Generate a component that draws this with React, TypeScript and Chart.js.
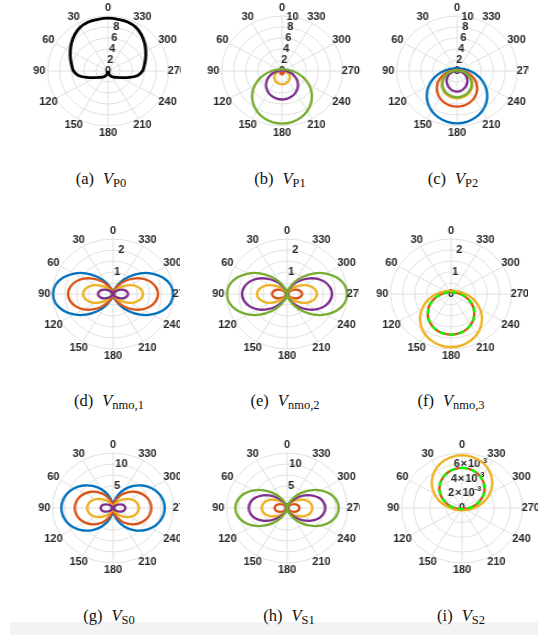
import React, { useEffect, useRef } from 'react';
import { Chart, registerables } from 'chart.js';

Chart.register(...registerables);

// MATLAB default line colours
const BLUE = '#0072BD';
const RED = '#D95319';
const YELLOW = '#EDB120';
const PURPLE = '#7E2F8E';
const GREEN = '#77AC30';
const LIME = '#00FF00';
const BLACK = '#000000';
const GRID = '#e0e0e0';
const TEXT = '#262626';

// Spokes every 10 deg; polar angle counted counter-clockwise from the top (radar spokes run clockwise)
const THETA = Array.from({ length: 36 }, (_, i) => (360 - i * 10) % 360);

// Each curve is listed for theta = 0, 10, ..., 180 deg; the other half mirrors it.
// (a) V_P0
const VP0_BLACK = [9.6, 9.55, 9.5, 9.2, 8.6, 7.9, 7.2, 6.6, 6.1, 5.7, 4.9, 3.5, 2.4, 1.8, 1.45, 1.15, 0.8, 0.45, 0.15];

// (b) V_P1
const VP1_RED = [0.05, 0.05, 0.05, 0.05, 0.05, 0.05, 0.05, 0.06, 0.08, 0.12, 0.18, 0.25, 0.32, 0.39, 0.45, 0.5, 0.55, 0.58, 0.6];
const VP1_YELLOW = [0.09, 0.09, 0.09, 0.1, 0.11, 0.13, 0.16, 0.22, 0.31, 0.47, 0.71, 1.01, 1.33, 1.63, 1.9, 2.12, 2.28, 2.38, 2.42];
const VP1_PURPLE = [0.09, 0.09, 0.1, 0.11, 0.12, 0.14, 0.17, 0.24, 0.37, 0.69, 1.26, 1.98, 2.72, 3.41, 4.02, 4.51, 4.88, 5.1, 5.18];
const VP1_GREEN = [0.31, 0.31, 0.33, 0.35, 0.39, 0.46, 0.57, 0.75, 1.09, 1.72, 2.7, 3.93, 5.2, 6.42, 7.5, 8.38, 9.04, 9.45, 9.58];

// (c) V_P2
const VP2_BLUE = [0.49, 0.5, 0.52, 0.56, 0.62, 0.72, 0.87, 1.11, 1.51, 2.16, 3.08, 4.2, 5.38, 6.52, 7.53, 8.37, 8.99, 9.38, 9.51];
const VP2_RED = [0.18, 0.18, 0.19, 0.21, 0.23, 0.27, 0.34, 0.45, 0.67, 1.09, 1.77, 2.61, 3.49, 4.33, 5.07, 5.67, 6.12, 6.4, 6.49];
const VP2_YELLOW = [0.09, 0.09, 0.09, 0.1, 0.12, 0.14, 0.17, 0.24, 0.37, 0.67, 1.22, 1.9, 2.61, 3.27, 3.85, 4.32, 4.68, 4.89, 4.96];
const VP2_PURPLE = [0.05, 0.05, 0.05, 0.05, 0.06, 0.06, 0.07, 0.09, 0.12, 0.15, 0.6, 1.15, 1.68, 2.2, 2.65, 3.05, 3.4, 3.65, 3.76];
const VP2_GREEN = [0.09, 0.09, 0.09, 0.1, 0.11, 0.13, 0.16, 0.23, 0.35, 0.64, 1.17, 1.82, 2.5, 3.14, 3.7, 4.15, 4.49, 4.69, 4.78];

// (d) V_nmo,1
const VN1_BLUE = [0, 0.07, 0.29, 0.62, 1.02, 1.46, 1.86, 2.19, 2.41, 2.48, 2.41, 2.19, 1.86, 1.46, 1.02, 0.62, 0.29, 0.07, 0];
const VN1_RED = [0, 0.06, 0.22, 0.47, 0.77, 1.09, 1.4, 1.64, 1.8, 1.86, 1.8, 1.64, 1.4, 1.09, 0.77, 0.47, 0.22, 0.06, 0];
const VN1_YELLOW = [0, 0.01, 0.05, 0.16, 0.33, 0.56, 0.81, 1.03, 1.18, 1.24, 1.18, 1.03, 0.81, 0.56, 0.33, 0.16, 0.05, 0.01, 0];
const VN1_PURPLE = [0, 0, 0.02, 0.08, 0.16, 0.28, 0.4, 0.51, 0.59, 0.62, 0.59, 0.51, 0.4, 0.28, 0.16, 0.08, 0.02, 0, 0];

// (e) V_nmo,2
const VN2_RED = [0, 0, 0.02, 0.08, 0.16, 0.28, 0.4, 0.51, 0.59, 0.62, 0.59, 0.51, 0.4, 0.28, 0.16, 0.08, 0.02, 0, 0];
const VN2_YELLOW = [0, 0.01, 0.05, 0.16, 0.33, 0.56, 0.81, 1.03, 1.18, 1.24, 1.18, 1.03, 0.81, 0.56, 0.33, 0.16, 0.05, 0.01, 0];
const VN2_PURPLE = [0, 0.06, 0.22, 0.47, 0.77, 1.09, 1.4, 1.64, 1.8, 1.86, 1.8, 1.64, 1.4, 1.09, 0.77, 0.47, 0.22, 0.06, 0];
const VN2_GREEN = [0, 0.07, 0.29, 0.62, 1.02, 1.46, 1.86, 2.19, 2.41, 2.48, 2.41, 2.19, 1.86, 1.46, 1.02, 0.62, 0.29, 0.07, 0];

// (f) V_nmo,3
const VN3_RED = [0.08, 0.08, 0.08, 0.09, 0.1, 0.11, 0.14, 0.18, 0.25, 0.38, 0.56, 0.79, 1.03, 1.25, 1.46, 1.62, 1.75, 1.82, 1.85];
const VN3_YELLOW = [0.15, 0.15, 0.16, 0.17, 0.19, 0.22, 0.26, 0.33, 0.44, 0.6, 0.83, 1.1, 1.39, 1.67, 1.92, 2.13, 2.28, 2.38, 2.41];
const VN3_LIME = [0.08, 0.08, 0.08, 0.09, 0.1, 0.11, 0.14, 0.18, 0.25, 0.38, 0.56, 0.79, 1.03, 1.25, 1.46, 1.62, 1.75, 1.82, 1.85];

// (g) V_S0
const VS0_BLUE = [0, 1.56, 3.28, 4.99, 6.57, 7.96, 9.12, 9.97, 10.5, 10.68, 10.5, 9.97, 9.12, 7.96, 6.57, 4.99, 3.28, 1.56, 0];
const VS0_RED = [0, 0.97, 2.18, 3.44, 4.66, 5.74, 6.65, 7.34, 7.77, 7.91, 7.77, 7.34, 6.65, 5.74, 4.66, 3.44, 2.18, 0.97, 0];
const VS0_YELLOW = [0, 0.16, 0.63, 1.34, 2.21, 3.15, 4.02, 4.73, 5.2, 5.36, 5.2, 4.73, 4.02, 3.15, 2.21, 1.34, 0.63, 0.16, 0];
const VS0_PURPLE = [0, 0.01, 0.1, 0.32, 0.68, 1.15, 1.66, 2.12, 2.44, 2.55, 2.44, 2.12, 1.66, 1.15, 0.68, 0.32, 0.1, 0.01, 0];

// (h) V_S1
const VS1_RED = [0, 0.02, 0.14, 0.39, 0.77, 1.24, 1.73, 2.16, 2.45, 2.55, 2.45, 2.16, 1.73, 1.24, 0.77, 0.39, 0.14, 0.02, 0];
const VS1_YELLOW = [0, 0.11, 0.49, 1.14, 1.98, 2.91, 3.81, 4.57, 5.06, 5.23, 5.06, 4.57, 3.81, 2.91, 1.98, 1.14, 0.49, 0.11, 0];
const VS1_PURPLE = [0, 0.17, 0.74, 1.72, 2.99, 4.4, 5.77, 6.91, 7.65, 7.91, 7.65, 6.91, 5.77, 4.4, 2.99, 1.72, 0.74, 0.17, 0];
const VS1_GREEN = [0, 0.32, 1.25, 2.67, 4.41, 6.27, 8.01, 9.43, 10.36, 10.68, 10.36, 9.43, 8.01, 6.27, 4.41, 2.67, 1.25, 0.32, 0];

// (i) V_S2
const VS2_RED = [0.00546, 0.00538, 0.00515, 0.00476, 0.00425, 0.00363, 0.00291, 0.00216, 0.00144, 0.00086, 0.00052, 0.00034, 0.00026, 0.0002, 0.00017, 0.00016, 0.00014, 0.00014, 0.00014];
const VS2_YELLOW = [0.00719, 0.00709, 0.00679, 0.00631, 0.00566, 0.00488, 0.004, 0.00308, 0.00221, 0.0015, 0.00102, 0.00073, 0.00056, 0.00046, 0.0004, 0.00036, 0.00033, 0.00032, 0.00031];
const VS2_LIME = [0.00546, 0.00538, 0.00515, 0.00476, 0.00425, 0.00363, 0.00291, 0.00216, 0.00144, 0.00086, 0.00052, 0.00034, 0.00026, 0.0002, 0.00017, 0.00016, 0.00014, 0.00014, 0.00014];

// Radial grid rings and labelled radial ticks
const RINGS_P = [0, 2, 4, 6, 8, 10];
const TICKS_P0 = [0, 2, 4, 6, 8];
const TICKS_P = [0, 2, 4, 6, 8, 10];
const RINGS_NMO = [0, 0.5, 1, 1.5, 2, 2.5];
const TICKS_NMO = [0, 1, 2];
const RINGS_S = [0, 2.5, 5, 7.5, 10, 12.5];
const TICKS_S = [0, 5, 10];
const RINGS_S2 = [0, 0.002, 0.004, 0.006, 0.0075];
const TICKS_S2 = [0, 0.002, 0.004, 0.006];

// canvas geometry (before the horizontal stretch)
const CW = 160;
const CH = 140;
const CX = 80;
const CY = 70;
const SX = 1.1;
const FONT = 'bold 10px "Liberation Sans", Arial, sans-serif';
const SUP_FONT = 'bold 7px "Liberation Sans", Arial, sans-serif';

type Series = { h: number[]; color: string; width?: number; dash?: number[] };
type Panel = {
  letter: string;
  sub: string;
  cx: number;
  cy: number;
  clip: [number, number, number, number];
  cap: [number, number];
  rmax: number;
  rings: number[];
  ticks: number[];
  sci?: number;
  series: Series[];
};

const PANELS: Panel[] = [
  { letter: 'a', sub: 'P0', cx: 108, cy: 71, clip: [0, 0, 181, 145], cap: [101, 180], rmax: 10, rings: RINGS_P, ticks: TICKS_P0,
    series: [{ h: VP0_BLACK, color: BLACK, width: 2.8 }] },
  { letter: 'b', sub: 'P1', cx: 282, cy: 71, clip: [181, 0, 361, 145], cap: [280, 180], rmax: 10, rings: RINGS_P, ticks: TICKS_P,
    series: [{ h: VP1_RED, color: RED }, { h: VP1_YELLOW, color: YELLOW }, { h: VP1_PURPLE, color: PURPLE }, { h: VP1_GREEN, color: GREEN }] },
  { letter: 'c', sub: 'P2', cx: 457, cy: 71, clip: [361, 0, 529, 145], cap: [453, 180], rmax: 10, rings: RINGS_P, ticks: TICKS_P,
    series: [{ h: VP2_BLUE, color: BLUE }, { h: VP2_RED, color: RED }, { h: VP2_YELLOW, color: YELLOW }, { h: VP2_PURPLE, color: PURPLE }, { h: VP2_GREEN, color: GREEN }] },
  { letter: 'd', sub: 'nmo,1', cx: 113, cy: 294, clip: [0, 222, 180, 368], cap: [109, 402], rmax: 2.5, rings: RINGS_NMO, ticks: TICKS_NMO,
    series: [{ h: VN1_BLUE, color: BLUE }, { h: VN1_RED, color: RED }, { h: VN1_YELLOW, color: YELLOW }, { h: VN1_PURPLE, color: PURPLE }] },
  { letter: 'e', sub: 'nmo,2', cx: 287, cy: 294, clip: [180, 222, 359, 368], cap: [285, 402], rmax: 2.5, rings: RINGS_NMO, ticks: TICKS_NMO,
    series: [{ h: VN2_RED, color: RED }, { h: VN2_YELLOW, color: YELLOW }, { h: VN2_PURPLE, color: PURPLE }, { h: VN2_GREEN, color: GREEN }] },
  { letter: 'f', sub: 'nmo,3', cx: 451, cy: 294, clip: [359, 222, 528, 368], cap: [451, 402], rmax: 2.5, rings: RINGS_NMO, ticks: TICKS_NMO,
    series: [{ h: VN3_RED, color: RED }, { h: VN3_YELLOW, color: YELLOW }, { h: VN3_LIME, color: LIME, dash: [5, 4] }] },
  { letter: 'g', sub: 'S0', cx: 113, cy: 508, clip: [0, 436, 180, 582], cap: [109, 617], rmax: 12.5, rings: RINGS_S, ticks: TICKS_S,
    series: [{ h: VS0_BLUE, color: BLUE }, { h: VS0_RED, color: RED }, { h: VS0_YELLOW, color: YELLOW }, { h: VS0_PURPLE, color: PURPLE }] },
  { letter: 'h', sub: 'S1', cx: 287, cy: 508, clip: [180, 436, 360, 582], cap: [289, 617], rmax: 12.5, rings: RINGS_S, ticks: TICKS_S,
    series: [{ h: VS1_RED, color: RED }, { h: VS1_YELLOW, color: YELLOW }, { h: VS1_PURPLE, color: PURPLE }, { h: VS1_GREEN, color: GREEN }] },
  { letter: 'i', sub: 'S2', cx: 462, cy: 508, clip: [360, 436, 538, 582], cap: [461, 617], rmax: 0.0075, rings: RINGS_S2, ticks: TICKS_S2, sci: 0.001,
    series: [{ h: VS2_RED, color: RED }, { h: VS2_YELLOW, color: YELLOW }, { h: VS2_LIME, color: LIME, dash: [5, 4] }] },
];

// full 36-spoke ring from a half curve (theta 0..180), mirrored about the vertical axis
const fullTurn = (h: number[]) => [...h, ...h.slice(1, 18).reverse()];

// radial tick labels along the 10-deg spoke, and theta labels every 30 deg
function polarText(panel: Panel) {
  return {
    id: 'polarText',
    beforeDatasetsDraw(chart: any) {
      const r = chart.scales.r;
      const ctx = chart.ctx;
      ctx.save();
      ctx.fillStyle = TEXT;
      ctx.textBaseline = 'middle';
      ctx.textAlign = 'left';
      panel.ticks.forEach((v) => {
        const p = r.getPointPositionForValue(1, v);
        let main = String(v);
        let sup = '';
        if (panel.sci && v !== 0) {
          main = `${Math.round(v / panel.sci)}\u200a×\u200a10`;
          sup = String(Math.round(Math.log10(panel.sci)));
        }
        ctx.font = FONT;
        const w1 = ctx.measureText(main).width;
        ctx.font = SUP_FONT;
        const w2 = sup ? ctx.measureText(sup).width : 0;
        const x = p.x - (w1 + w2) / 2;
        ctx.font = FONT;
        ctx.fillText(main, x, p.y);
        if (sup) {
          ctx.font = SUP_FONT;
          ctx.fillText(sup, x + w1, p.y - 4);
        }
      });
      ctx.restore();
    },
    afterDatasetsDraw(chart: any) {
      const r = chart.scales.r;
      const ctx = chart.ctx;
      ctx.save();
      ctx.fillStyle = TEXT;
      ctx.font = FONT;
      ctx.textAlign = 'center';
      ctx.textBaseline = 'middle';
      THETA.forEach((deg, i) => {
        if (deg % 30 !== 0) return;
        const p = r.getPointPosition(i, r.drawingArea + 7.5);
        ctx.fillText(String(deg), p.x, p.y);
      });
      ctx.restore();
    },
  };
}

function PolarPanel({ panel }: { panel: Panel }) {
  const ref = useRef<HTMLCanvasElement | null>(null);

  useEffect(() => {
    if (!ref.current) return;
    const n = panel.series.length;
    const chart = new Chart(ref.current, {
      type: 'radar',
      data: {
        labels: THETA.map(String),
        datasets: panel.series.map((s, k) => ({
          data: fullTurn(s.h),
          borderColor: s.color,
          borderWidth: s.width ?? 2.3,
          borderDash: s.dash ?? [],
          fill: false,
          pointRadius: 0,
          pointHoverRadius: 0,
          tension: 0.35,
          clip: false as any,
          order: n - k,
        })),
      },
      options: {
        responsive: false,
        animation: false,
        events: [],
        layout: { padding: { left: CX - 55, right: CW - CX - 55, top: CY - 55, bottom: CH - CY - 55 } },
        plugins: { legend: { display: false }, tooltip: { enabled: false } },
        scales: {
          r: {
            min: 0,
            max: panel.rmax,
            afterBuildTicks: (scale: any) => {
              scale.ticks = panel.rings.map((v) => ({ value: v }));
            },
            ticks: { display: false },
            pointLabels: { display: false },
            grid: { circular: true, color: GRID, lineWidth: 1 },
            angleLines: {
              display: true,
              color: GRID,
              lineWidth: (ctx: any) => (ctx.index % 3 === 0 ? 1 : 0),
            },
          },
        },
      },
      plugins: [polarText(panel)],
    } as any);
    return () => chart.destroy();
  }, [panel]);

  const [x0, y0, x1, y1] = panel.clip;
  return (
    <div style={{ position: 'absolute', left: x0, top: y0, width: x1 - x0, height: y1 - y0, overflow: 'hidden' }}>
      <canvas
        ref={ref}
        width={CW}
        height={CH}
        style={{
          position: 'absolute',
          left: panel.cx - SX * CX - x0,
          top: panel.cy - CY - y0,
          width: CW,
          height: CH,
          transform: `scaleX(${SX})`,
          transformOrigin: '0 0',
        }}
      />
    </div>
  );
}

function Caption({ panel }: { panel: Panel }) {
  const [x, y] = panel.cap;
  return (
    <div
      style={{
        position: 'absolute',
        left: x - 90,
        top: y - 12,
        width: 180,
        textAlign: 'center',
        fontFamily: '"Liberation Serif", "DejaVu Serif", serif',
        fontSize: 16.5,
        lineHeight: '22px',
        color: '#111',
        whiteSpace: 'nowrap',
      }}
    >
      ({panel.letter})
      <span style={{ display: 'inline-block', width: 9 }} />
      <i>V</i>
      <span style={{ fontSize: 12.5, position: 'relative', top: 3 }}>{panel.sub}</span>
    </div>
  );
}

export default function App() {
  return (
    <div style={{ position: 'absolute', left: 0, top: 0, width: 538, height: 635, background: '#fff', overflow: 'hidden' }}>
      <div style={{ position: 'absolute', left: 10, top: 622, width: 528, height: 13, background: '#f3f3f3' }} />
      {PANELS.map((p) => (
        <PolarPanel key={p.letter} panel={p} />
      ))}
      {PANELS.map((p) => (
        <Caption key={`cap-${p.letter}`} panel={p} />
      ))}
    </div>
  );
}
